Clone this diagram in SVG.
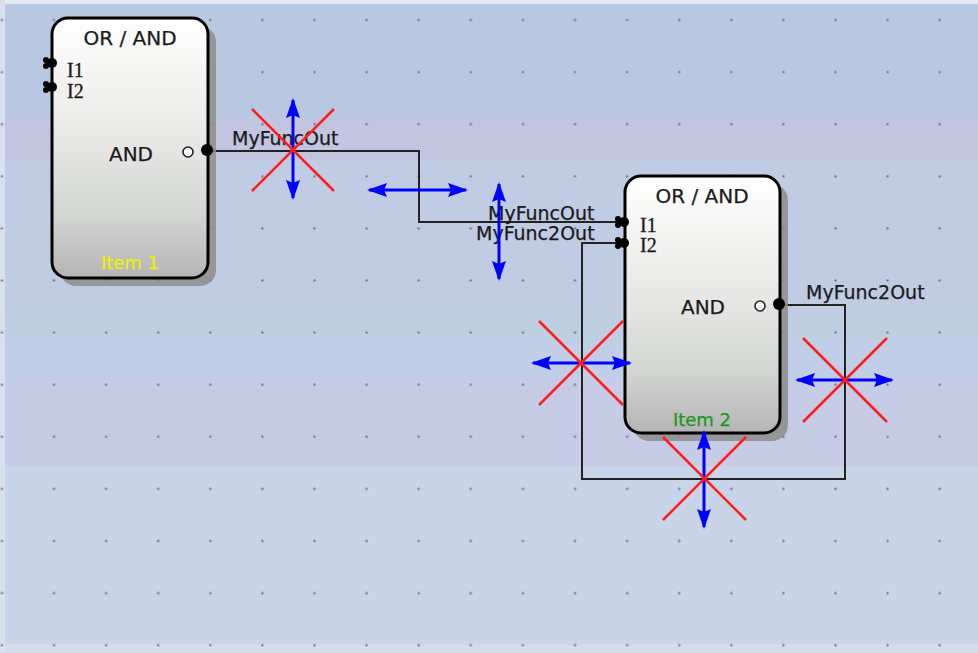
<svg xmlns="http://www.w3.org/2000/svg" width="978" height="653" viewBox="0 0 978 653">
<style>
.t{font-family:"DejaVu Sans","Liberation Sans",sans-serif;fill:#1a1a1a;stroke:#1a1a1a;stroke-width:0.25}
.s{font-family:"Liberation Serif","DejaVu Serif",serif;fill:#1a1a1a;font-size:20px;stroke:#1a1a1a;stroke-width:0.3}
.box{fill:url(#nodeFill);stroke:#000;stroke-width:3}
.shadow{fill:#8c8c8c;opacity:0.85}
.wire{fill:none;stroke:#222;stroke-width:2}
.lbl{font-size:19px}
.red{stroke:#ff1e1e;stroke-width:2.5;fill:none}
.blue{stroke:#0000ff;stroke-width:3;fill:none;marker-start:url(#ah);marker-end:url(#ah)}
.pin{fill:#000}
.ring{fill:#fff;stroke:#222;stroke-width:1.6}
</style>
<defs>
<linearGradient id="bg" x1="0" y1="0" x2="0" y2="653" gradientUnits="userSpaceOnUse">
<stop offset="0" stop-color="#b8c8e0"/>
<stop offset="0.179" stop-color="#b8c8e0"/>
<stop offset="0.18" stop-color="#c1c5df"/>
<stop offset="0.244" stop-color="#c1c5df"/>
<stop offset="0.245" stop-color="#bfcce3"/>
<stop offset="0.478" stop-color="#bfcce2"/>
<stop offset="0.48" stop-color="#bfcfe2"/>
<stop offset="0.52" stop-color="#bfcfe2"/>
<stop offset="0.521" stop-color="#c0cee8"/>
<stop offset="0.58" stop-color="#c0cee8"/>
<stop offset="0.582" stop-color="#c6cce6"/>
<stop offset="0.713" stop-color="#c6cce6"/>
<stop offset="0.714" stop-color="#c8d4e8"/>
<stop offset="0.985" stop-color="#c8d4e8"/>
<stop offset="0.988" stop-color="#d4dcec"/>
<stop offset="1" stop-color="#d4dcec"/>
</linearGradient>
<linearGradient id="nodeFill" x1="0" y1="0" x2="0" y2="1">
<stop offset="0" stop-color="#ffffff"/>
<stop offset="0.4" stop-color="#ebebea"/>
<stop offset="0.75" stop-color="#d4d6d4"/>
<stop offset="1" stop-color="#b4b4b4"/>
</linearGradient>
<pattern id="dots" x="28" y="-6" width="52.1" height="52.1" patternUnits="userSpaceOnUse">
<rect x="25" y="25" width="2" height="2" fill="#666a74"/>
</pattern>
<marker id="ah" viewBox="0 0 20 14" refX="18" refY="7" markerWidth="20" markerHeight="14" markerUnits="userSpaceOnUse" orient="auto-start-reverse">
<path d="M0,0 L20,7 L0,14 L3,7 Z" fill="#0000ff"/>
</marker>
</defs>

<g id="background">
<rect x="0" y="0" width="978" height="653" fill="url(#bg)"/>
<rect x="0" y="0" width="978" height="4" fill="#e4eaf4"/>
<rect x="0" y="0" width="5" height="653" fill="#d8e0f0"/>
<rect x="0" y="0" width="978" height="653" fill="url(#dots)"/>
</g>

<g id="connectors">
<polyline class="wire" points="208,151 419,151 419,222 622,222"/>
<polyline class="wire" points="780,305 845,305 845,479 582,479 582,243 622,243"/>
<text class="t lbl" x="232" y="145">MyFuncOut</text>
<text class="t lbl" x="488" y="220">MyFuncOut</text>
<text class="t lbl" x="476" y="240">MyFunc2Out</text>
<text class="t lbl" x="806" y="299">MyFunc2Out</text>
</g>

<g id="node1">
<rect class="shadow" x="60" y="26" width="156" height="260" rx="16"/>
<rect class="box" x="52" y="18" width="156" height="260" rx="16"/>
<text class="t" x="130" y="45" font-size="20" text-anchor="middle">OR / AND</text>
<text class="s" x="67" y="77">I1</text>
<text class="s" x="67" y="98">I2</text>
<circle class="pin" cx="46" cy="60" r="3"/><circle class="pin" cx="46" cy="66" r="3"/><circle class="pin" cx="52" cy="63" r="5"/>
<circle class="pin" cx="46" cy="84" r="3"/><circle class="pin" cx="46" cy="90" r="3"/><circle class="pin" cx="52" cy="87" r="5"/>
<text class="t" x="131" y="161" font-size="20" text-anchor="middle">AND</text>
<circle class="ring" cx="188" cy="152" r="5"/>
<circle class="pin" cx="207" cy="150" r="6"/>
<text class="t" x="130" y="269" font-size="18" text-anchor="middle" style="fill:#f0f000;stroke:#f0f000">Item 1</text>
</g>

<g id="node2">
<rect class="shadow" x="633" y="184" width="155" height="257" rx="16"/>
<rect class="box" x="625" y="176" width="155" height="257" rx="16"/>
<text class="t" x="702" y="203" font-size="20" text-anchor="middle">OR / AND</text>
<text class="s" x="640" y="232">I1</text>
<text class="s" x="640" y="252">I2</text>
<circle class="pin" cx="618" cy="219" r="3"/><circle class="pin" cx="618" cy="225" r="3"/><circle class="pin" cx="624" cy="222" r="5"/>
<circle class="pin" cx="618" cy="240" r="3"/><circle class="pin" cx="618" cy="246" r="3"/><circle class="pin" cx="624" cy="243" r="5"/>
<text class="t" x="703" y="314" font-size="20" text-anchor="middle">AND</text>
<circle class="ring" cx="760" cy="306" r="5"/>
<circle class="pin" cx="779" cy="304" r="6"/>
<text class="t" x="702" y="426" font-size="18" text-anchor="middle" style="fill:#1e961e;stroke:#1e961e">Item 2</text>
</g>

<g id="handles">
<line class="blue" x1="293" y1="100" x2="293" y2="198"/>
<path class="red" d="M252,109 L334,191 M334,109 L252,191"/>
<line class="blue" x1="369" y1="190" x2="466" y2="190"/>
<line class="blue" x1="499" y1="184" x2="499" y2="279"/>
<line class="blue" x1="533" y1="363" x2="630" y2="363"/>
<path class="red" d="M539,321 L623,405 M623,321 L539,405"/>
<line class="blue" x1="797" y1="380" x2="892" y2="380"/>
<path class="red" d="M803,338 L887,422 M887,338 L803,422"/>
<line class="blue" x1="704" y1="432" x2="704" y2="527"/>
<path class="red" d="M663,437 L746,520 M746,437 L663,520"/>
</g>
</svg>
